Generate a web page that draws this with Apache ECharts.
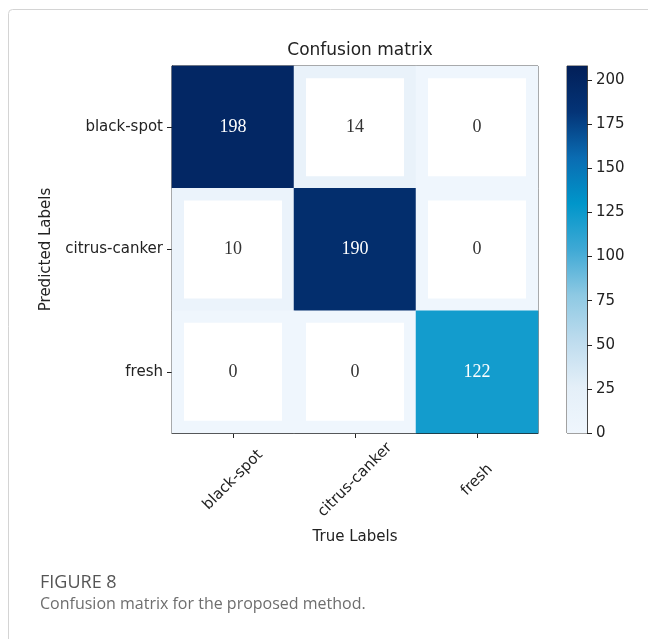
<!DOCTYPE html>
<html>
<head>
<meta charset="utf-8">
<script src="https://cdn.jsdelivr.net/npm/echarts@6/dist/echarts.min.js"></script>
<style>
  html, body { margin: 0; padding: 0; background: #fff; }
  #main { width: 648px; height: 639px; }
</style>
</head>
<body>
<div id="main"></div>
<script>
// true labels on x, predicted labels on y
var trueLabels = ['black-spot', 'citrus-canker', 'fresh']
var predLabels = ['black-spot', 'citrus-canker', 'fresh']
// rows = predicted, cols = true
var counts = [
  [198, 14, 0],
  [10, 190, 0],
  [0, 0, 122]
]
var colorMax = 208
var colorTicks = [0, 25, 50, 75, 100, 125, 150, 175, 200]
// colormap, evenly spaced from 0 to colorMax
var cmap = ['#eff6fd', '#e4eff8', '#bedcee', '#8ec9e3', '#3fa9d5', '#0096ca', '#0a6cb2', '#043477', '#021f58']

var cells = []
for (var i = 0; i < predLabels.length; i++) {
  for (var j = 0; j < trueLabels.length; j++) {
    cells.push([j, i, counts[i][j]])
  }
}

var gradStops = cmap.map(function (c, k) {
  return { offset: k / (cmap.length - 1), color: c }
})

var Chart = echarts.init(document.getElementById('main'))
var option = {
  backgroundColor: '#fff',
  animation: false,
  title: {
    text: 'Confusion matrix',
    left: 355,
    top: 37,
    textAlign: 'center',
    textStyle: {
      fontFamily: 'DejaVu Sans',
      fontSize: 17,
      fontWeight: 'normal',
      color: '#222'
    }
  },
  grid: [
    { left: 172, top: 66, width: 366, height: 367, show: true, borderColor: '#222', borderWidth: 1 },
    { left: 567, top: 66, width: 20, height: 367, show: true, borderColor: '#444', borderWidth: 1 }
  ],
  xAxis: [
    {
      type: 'category',
      data: trueLabels,
      gridIndex: 0,
      name: 'True Labels',
      nameLocation: 'middle',
      nameGap: 97,
      nameTextStyle: { fontFamily: 'DejaVu Sans', fontSize: 15, color: '#222' },
      axisLine: { show: true, lineStyle: { color: '#222' } },
      axisTick: { show: true, alignWithLabel: true, length: 5, lineStyle: { color: '#222', width: 1 } },
      axisLabel: {
        rotate: 45,
        align: 'center',
        verticalAlign: 'middle',
        margin: 47,
        fontFamily: 'DejaVu Sans',
        fontSize: 15,
        color: '#222'
      },
      splitLine: { show: false }
    },
    {
      type: 'category',
      data: [''],
      gridIndex: 1,
      show: false
    }
  ],
  yAxis: [
    {
      type: 'category',
      data: predLabels,
      gridIndex: 0,
      inverse: true,
      name: 'Predicted Labels',
      nameLocation: 'middle',
      nameGap: 118,
      nameTextStyle: { fontFamily: 'DejaVu Sans', fontSize: 15, color: '#222' },
      axisLine: { show: true, lineStyle: { color: '#222' } },
      axisTick: { show: true, alignWithLabel: true, length: 5, lineStyle: { color: '#222', width: 1 } },
      axisLabel: { margin: 9, fontFamily: 'DejaVu Sans', fontSize: 15, color: '#222' },
      splitLine: { show: false }
    },
    {
      type: 'value',
      gridIndex: 1,
      position: 'right',
      min: 0,
      max: colorMax,
      axisLine: { show: true, lineStyle: { color: '#444' } },
      axisTick: { show: true, length: 5, customValues: colorTicks, lineStyle: { color: '#222' } },
      axisLabel: { margin: 9, customValues: colorTicks, fontFamily: 'DejaVu Sans', fontSize: 15, color: '#222' },
      splitLine: { show: false }
    }
  ],
  visualMap: {
    type: 'continuous',
    show: false,
    min: 0,
    max: colorMax,
    seriesIndex: 0,
    inRange: { color: cmap }
  },
  series: [
    {
      type: 'heatmap',
      xAxisIndex: 0,
      yAxisIndex: 0,
      data: cells,
      silent: true,
      itemStyle: { borderWidth: 0 }
    },
    {
      type: 'scatter',
      xAxisIndex: 0,
      yAxisIndex: 0,
      data: cells,
      silent: true,
      z: 3,
      symbol: 'rect',
      symbolSize: 98,
      itemStyle: {
        opacity: 1,
        color: function (p) { return p.value[2] < 50 ? '#ffffff' : 'rgba(0,0,0,0)' }
      },
      label: {
        show: true,
        position: 'inside',
        formatter: function (p) {
          var v = p.value[2]
          return v > colorMax / 2 ? '{w|' + v + '}' : '{d|' + v + '}'
        },
        rich: {
          w: { color: '#fff', fontFamily: 'Liberation Serif', fontSize: 18 },
          d: { color: '#333', fontFamily: 'Liberation Serif', fontSize: 18 }
        }
      }
    },
    {
      type: 'bar',
      xAxisIndex: 1,
      yAxisIndex: 1,
      data: [colorMax],
      barWidth: '100%',
      silent: true,
      itemStyle: {
        color: new echarts.graphic.LinearGradient(0, 1, 0, 0, gradStops)
      }
    }
  ],
  graphic: [
    {
      type: 'rect',
      shape: { x: 8.5, y: 9.5, width: 700, height: 700, r: 4 },
      style: { fill: 'none', stroke: '#d4d4d4', lineWidth: 1 },
      silent: true
    },
    {
      type: 'text',
      left: 40,
      top: 574,
      style: { text: 'FIGURE 8', font: '500 18px "Open Sans"', fill: '#555' }
    },
    {
      type: 'text',
      left: 40,
      top: 596,
      style: { text: 'Confusion matrix for the proposed method.', font: '16px "Open Sans"', fill: '#6e6e6e' }
    }
  ]
}
Chart.setOption(option)
</script>
</body>
</html>
